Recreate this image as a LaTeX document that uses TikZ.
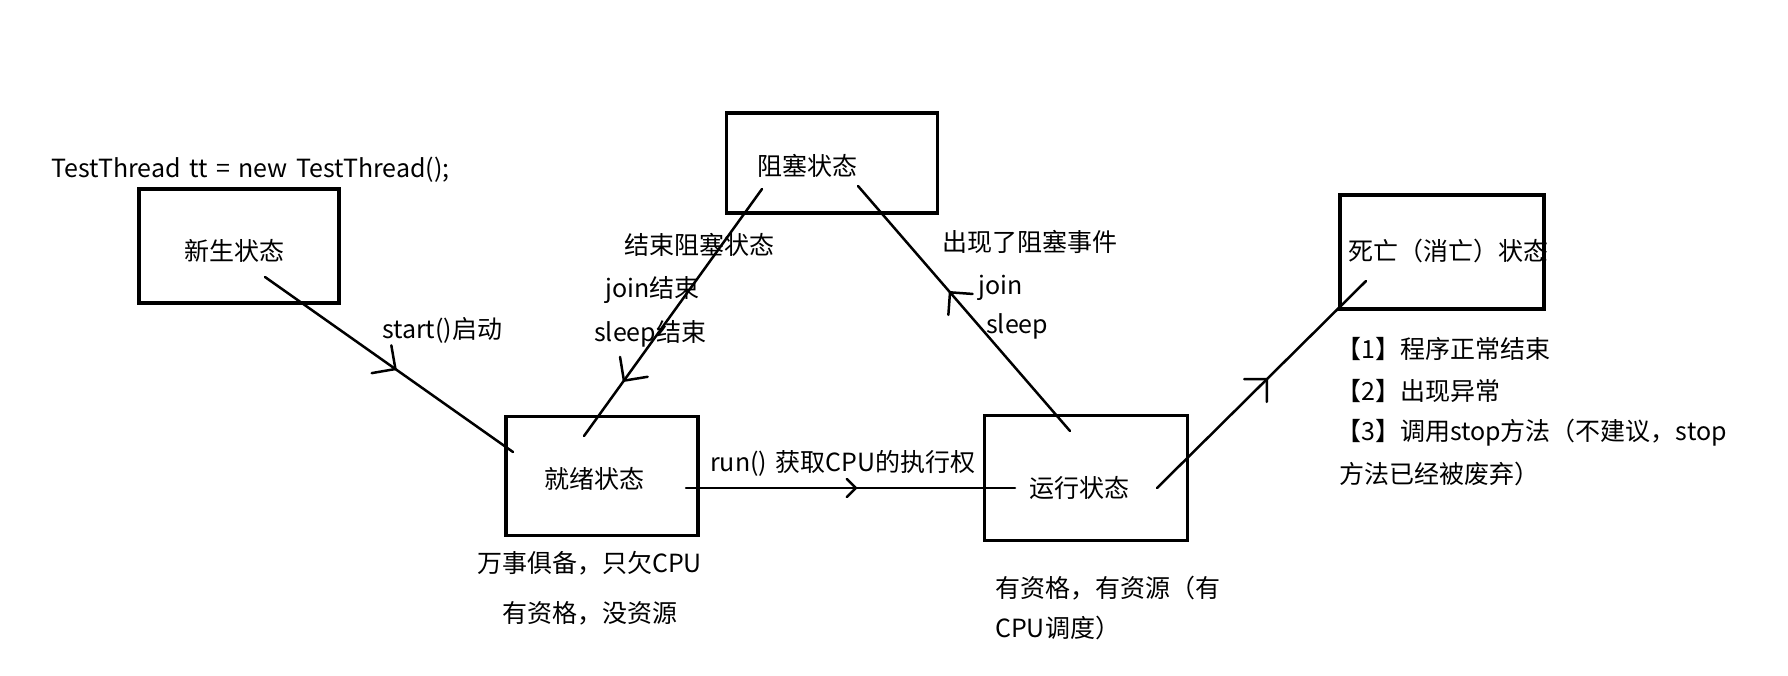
\documentclass[tikz,border=0pt]{standalone}
\usepackage{fontspec}
\setmainfont[WordSpace=1.5]{Noto Sans CJK SC}
\usetikzlibrary{arrows.meta,decorations.markings}

\tikzset{
  statebox/.style={draw, line width=3.5pt, inner sep=0pt},
  lbl/.style={inner sep=0pt, font=\fontsize{25}{30}\selectfont},
  conn/.style={line width=2.5pt, line cap=round},
  midarrow/.style 2 args={postaction={decorate}, decoration={markings,
      mark=at position #1 with {\arrow{Straight Barb[length=#2pt, width=2*#2pt, line width=2.5pt, round]}}}},
}

\begin{document}
\begin{tikzpicture}[x=1pt, y=-1pt]
\useasboundingbox (0,0) rectangle (1788,675);

% code line that creates the thread
\node[lbl, anchor=west] (code) at (51,170) {TestThread tt = new TestThread();};

% state boxes
\node[statebox, minimum width=200pt, minimum height=114pt] (new)   at (239,246)  {};
\node[statebox, minimum width=211pt, minimum height=100pt] (block) at (832,163)  {};
\node[statebox, minimum width=192pt, minimum height=119pt] (ready) at (602,476)  {};
\node[statebox, minimum width=203pt, minimum height=125pt] (run)   at (1086,478) {};
\node[statebox, minimum width=204pt, minimum height=114pt] (dead)  at (1442,252) {};

% state names
\node[lbl] (new-t)   at (234,251)  {新生状态};
\node[lbl] (block-t) at (807,166)  {阻塞状态};
\node[lbl] (ready-t) at (594,479)  {就绪状态};
\node[lbl] (run-t)   at (1079,488) {运行状态};
\node[lbl, anchor=west] (dead-t) at (1348,251) {死亡（消亡）状态};

% connector end points inside the boxes
\coordinate (new-out)   at (265,277);
\coordinate (ready-in1) at (513,452);
\coordinate (block-out) at (762,189);
\coordinate (ready-in2) at (584,436);
\coordinate (run-out1)  at (1070,431);
\coordinate (block-in)  at (858,186);
\coordinate (ready-out) at (686,488);
\coordinate (run-in)    at (1015,488);
\coordinate (run-out2)  at (1157,488);
\coordinate (dead-in)   at (1366,281);

% transitions
\draw[conn, midarrow={0.53}{17}] (new-out) -- (ready-in1);
\draw[conn, midarrow={0.78}{17}] (block-out) -- (ready-in2);
\draw[conn, midarrow={0.57}{16}] (run-out1) -- (block-in);
\draw[conn, midarrow={0.52}{9}]  (ready-out) -- (run-in);
\draw[conn, midarrow={0.53}{16}] (run-out2) -- (dead-in);

% transition labels
\node[lbl, anchor=west] (start-l) at (382,330) {start()启动};
\node[lbl, anchor=west] (unblock1) at (624,245) {结束阻塞状态};
\node[lbl, anchor=west] (unblock2) at (605,290) {join结束};
\node[lbl, anchor=west] (unblock3) at (594,334) {sleep结束};
\node[lbl, anchor=west] (blockev1) at (942,242) {出现了阻塞事件};
\node[lbl, anchor=west] (blockev2) at (978,288) {join};
\node[lbl, anchor=west] (blockev3) at (986,326) {sleep};
\node[lbl, anchor=west] (run-l) at (710,463) {run() 获取CPU的执行权};

% notes under the states
\node[lbl, anchor=west] (ready-n1) at (477,563) {万事俱备，只欠CPU};
\node[lbl, anchor=west] (ready-n2) at (502,613) {有资格，没资源};
\node[lbl, anchor=west] (run-n1) at (995,588) {有资格，有资源（有};
\node[lbl, anchor=west] (run-n2) at (995,628) {CPU调度）};

% reasons for termination
\node[lbl, anchor=west] (dead-n1) at (1336,349) {【1】程序正常结束};
\node[lbl, anchor=west] (dead-n2) at (1336,391) {【2】出现异常};
\node[lbl, anchor=west] (dead-n3) at (1336,433) {【3】调用stop方法（不建议，stop};
\node[lbl, anchor=west] (dead-n4) at (1339,474) {方法已经被废弃）};
\end{tikzpicture}
\end{document}
